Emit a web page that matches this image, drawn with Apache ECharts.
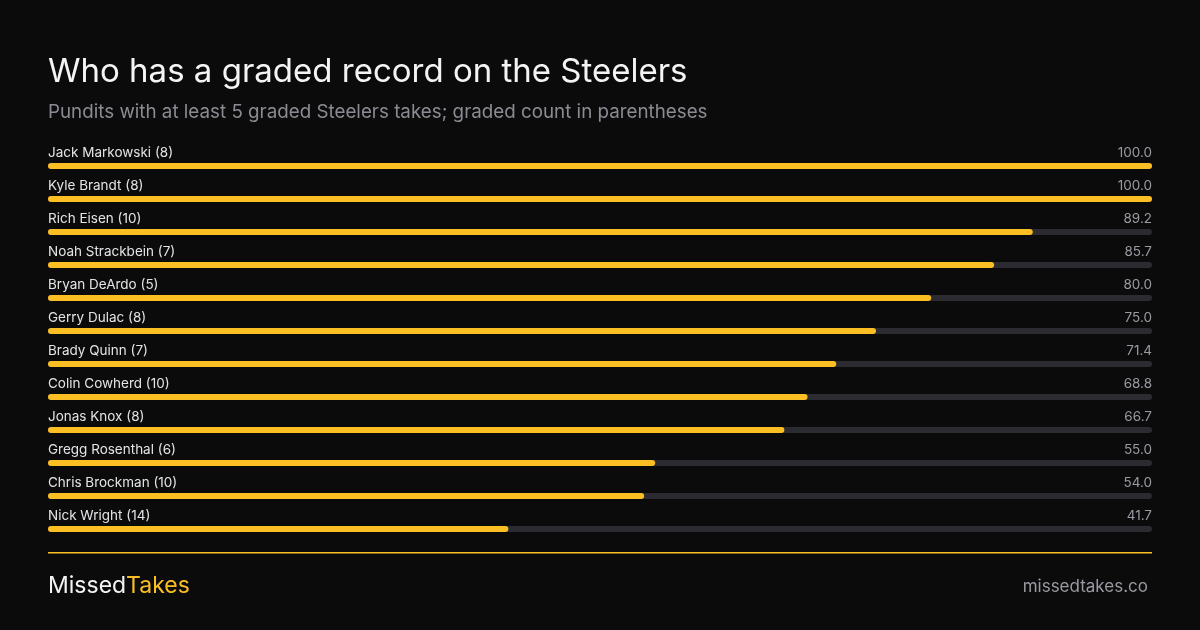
<!DOCTYPE html>
<html><head><meta charset="utf-8">
<script src="https://cdn.jsdelivr.net/npm/echarts@6/dist/echarts.min.js"></script>
<style>html,body{margin:0;background:#0b0b0c}#c{width:1200px;height:630px}</style>
</head><body><div id="c"></div>
<script>
const names=["Jack Markowski (8)","Kyle Brandt (8)","Rich Eisen (10)","Noah Strackbein (7)","Bryan DeArdo (5)","Gerry Dulac (8)","Brady Quinn (7)","Colin Cowherd (10)","Jonas Knox (8)","Gregg Rosenthal (6)","Chris Brockman (10)","Nick Wright (14)"];
const values=[100.0,100.0,89.2,85.7,80.0,75.0,71.4,68.8,66.7,55.0,54.0,41.7];
const trackValues=names.map(()=>100);
const F='Inter, "Noto Sans", sans-serif';
const chart=echarts.init(document.getElementById('c'));
chart.setOption({
backgroundColor:'#0b0b0c',
animation:false,
title:[{text:'Who has a graded record on the Steelers',left:43,top:51,textStyle:{color:'#f4f4f5',fontSize:33,fontWeight:'normal',fontFamily:F}},
{text:'Pundits with at least 5 graded Steelers takes; graded count in parentheses',left:43,top:98,textStyle:{color:'#8b8b93',fontSize:18.8,fontWeight:'normal',fontFamily:F}}],
grid:{left:48,right:48,top:149.5,bottom:84.5},
xAxis:{type:'value',min:0,max:100,show:false},
yAxis:{type:'category',data:names,inverse:true,show:false},
series:[
{type:'bar',data:trackValues,barWidth:6,barGap:'-100%',itemStyle:{color:'#2b2b31',borderRadius:3},
 label:{show:true,position:'insideRight',distance:0,offset:[0,-13],color:'#9a9aa2',fontSize:13.5,fontFamily:F,
 formatter:p=>values[p.dataIndex].toFixed(1)},silent:true},
{type:'bar',data:values,barWidth:6,itemStyle:{color:'#fbbf24',borderRadius:3},
 label:{show:true,position:'insideLeft',distance:0,offset:[0,-13],color:'#e4e4e7',fontSize:13.5,fontFamily:F,
 formatter:p=>p.name}}
],
graphic:[
{type:'rect',shape:{x:48,y:552,width:1104,height:1.5},style:{fill:'#fbbf24'}},
{type:'text',left:48,top:575,style:{text:'{a|Missed}{b|Takes}',rich:{a:{fill:'#f4f4f5',fontSize:23,fontFamily:F},b:{fill:'#fbbf24',fontSize:23,fontFamily:F}}}},
{type:'text',right:52,top:578,style:{text:'missedtakes.co',fill:'#9a9aa2',fontSize:17,fontFamily:F}}
]
});
</script></body></html>
